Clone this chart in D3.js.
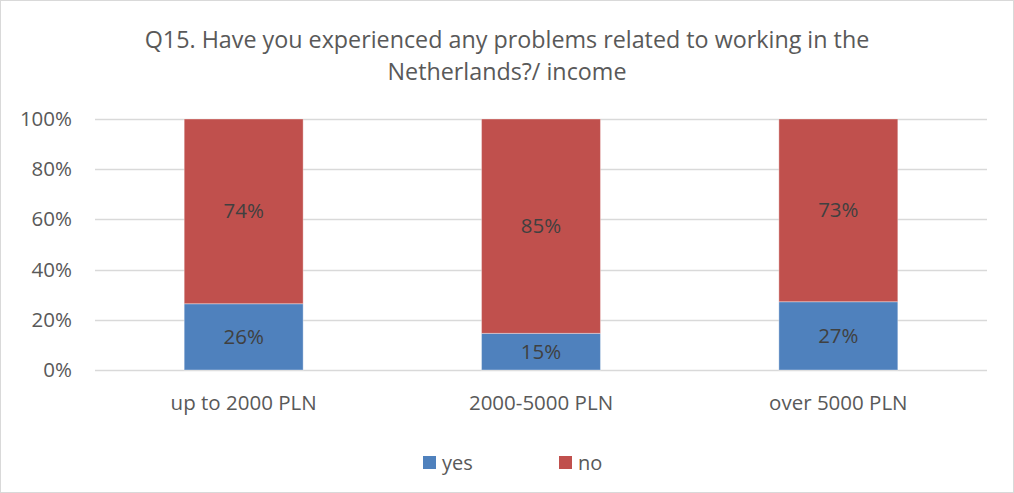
<!DOCTYPE html>
<html><head><meta charset="utf-8">
<script src="https://cdn.jsdelivr.net/npm/d3@7"></script>
<style>body{margin:0;background:#fff}svg{display:block}text{font-family:"Open Sans","Liberation Sans",sans-serif;fill:#595959}</style>
</head><body><svg id="c" width="1014" height="493"></svg>
<script>
const categories = ["up to 2000 PLN", "2000-5000 PLN", "over 5000 PLN"];
const yesValues = [26.4, 14.6, 27.2];
const noValues = [73.6, 85.4, 72.8];
const yesLabels = ["26%", "15%", "27%"];
const noLabels = ["74%", "85%", "73%"];
const yTicks = [0, 20, 40, 60, 80, 100];
const seriesNames = ["yes", "no"];
const colors = ["#4F81BD", "#C0504D"];
const titleLines = ["Q15. Have you experienced any problems related to working in the", "Netherlands?/ income"];

const svg = d3.select("#c");
svg.append("rect").attr("x",0.5).attr("y",0.5).attr("width",1013).attr("height",492).attr("fill","#fff").attr("stroke","#d9d9d9");

const x = d3.scaleBand().domain(categories).range([95, 987]).padding(0);
const y = d3.scaleLinear().domain([0, 100]).range([370, 119]);
const barW = x.bandwidth() * 0.4;

// title
svg.append("g").selectAll("text").data(titleLines).join("text")
  .attr("x", 507).attr("y", (d,i)=>48+i*32).attr("text-anchor","middle")
  .attr("font-size", 23.3).text(d=>d);

// gridlines
svg.append("g").selectAll("line").data(yTicks).join("line")
  .attr("x1",95).attr("x2",987).attr("y1",d=>Math.round(y(d))+0.5).attr("y2",d=>Math.round(y(d))+0.5)
  .attr("stroke","#d9d9d9").attr("stroke-width",1.3);

// y axis labels
svg.append("g").selectAll("text").data(yTicks).join("text")
  .attr("x",72).attr("y",d=>y(d)+7).attr("text-anchor","end").attr("font-size",20.5)
  .text(d=>d+"%");

// bars
const rows = categories.map((c,i)=>({c, yes:yesValues[i], no:noValues[i], yl:yesLabels[i], nl:noLabels[i]}));
const g = svg.append("g");
rows.forEach(r=>{
  const x0 = x(r.c) + (x.bandwidth()-barW)/2;
  g.append("rect").attr("x",x0).attr("width",barW).attr("y",y(r.yes)).attr("height",y(0)-y(r.yes))
    .attr("fill",colors[0]).attr("stroke","#ffffff").attr("stroke-opacity",0.35);
  g.append("rect").attr("x",x0).attr("width",barW).attr("y",y(r.yes+r.no)).attr("height",y(r.yes)-y(r.yes+r.no))
    .attr("fill",colors[1]).attr("stroke","#ffffff").attr("stroke-opacity",0.35);
  const cx = x(r.c)+x.bandwidth()/2;
  g.append("text").attr("x",cx).attr("y",(y(0)+y(r.yes))/2+7).attr("text-anchor","middle").attr("font-size",20.5).style("fill","#404040").text(r.yl);
  g.append("text").attr("x",cx).attr("y",(y(r.yes)+y(r.yes+r.no))/2+7).attr("text-anchor","middle").attr("font-size",20.5).style("fill","#404040").text(r.nl);
});

// category labels
svg.append("g").selectAll("text").data(categories).join("text")
  .attr("x",d=>x(d)+x.bandwidth()/2).attr("y",410).attr("text-anchor","middle").attr("font-size",20.5).text(d=>d);

// legend
const legX = [423, 559];
const lg = svg.append("g");
seriesNames.forEach((s,i)=>{
  lg.append("rect").attr("x",legX[i]).attr("y",456).attr("width",13).attr("height",13).attr("fill",colors[i]);
  lg.append("text").attr("x",legX[i]+19).attr("y",470).attr("font-size",20).text(s);
});
</script></body></html>
